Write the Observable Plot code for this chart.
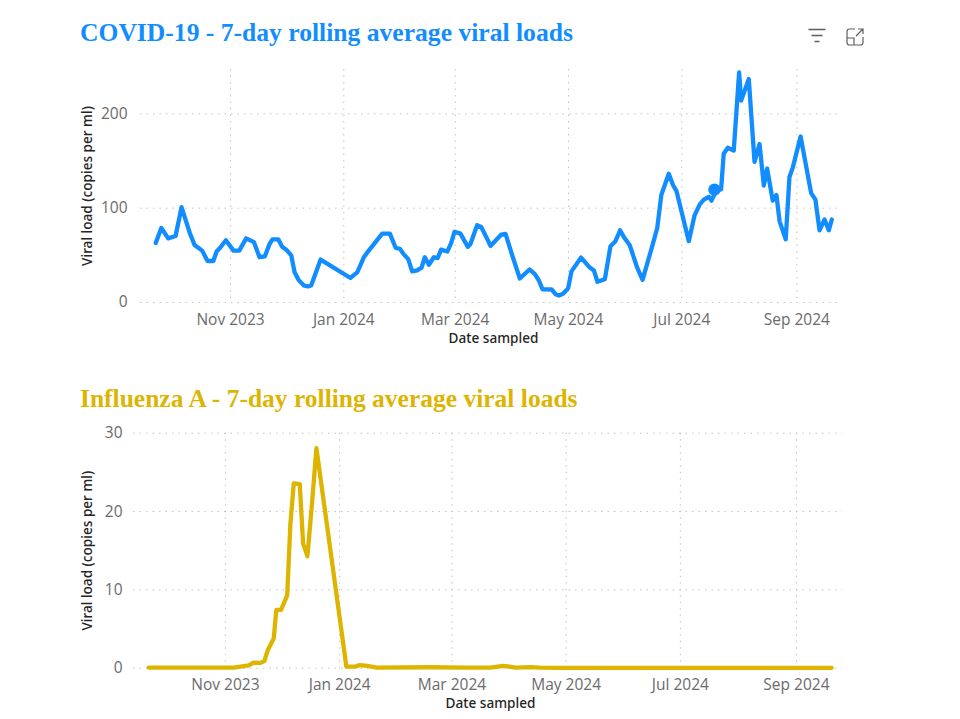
<!DOCTYPE html>
<html>
<head>
<meta charset="utf-8">
<script src="https://cdn.jsdelivr.net/npm/d3@7"></script>
<script src="https://cdn.jsdelivr.net/npm/@observablehq/plot@0.6"></script>
<style>
  html, body { margin: 0; padding: 0; background: #fff; overflow: hidden; }
  #page { position: relative; width: 960px; height: 719px; }
  .title { position: absolute; left: 80px; font: bold 25.6px "Liberation Serif", serif; white-space: nowrap; line-height: 30px; }
  .chart { position: absolute; left: 0; }
  .chart svg { display: block; }
  .icon { position: absolute; }
</style>
</head>
<body>
<div id="page">
  <div class="title" style="top:18px;color:#118DFF">COVID-19 - 7-day rolling average viral loads</div>
  <div class="title" style="top:384px;color:#DDB500;font-size:25.5px">Influenza A - 7-day rolling average viral loads</div>
  <svg class="icon" style="left:808px;top:28px" width="18" height="16" fill="none" stroke="#605e5c" stroke-width="1.3"><path d="M0.5 1.5H17.5M3.5 7.5H14.5M6.5 13.5H11.5"/></svg>
  <svg class="icon" style="left:846px;top:28px" width="18" height="18" fill="none" stroke="#605e5c" stroke-width="1.2"><path d="M9 1H3.5Q1 1 1 3.5V14.5Q1 17 3.5 17H14.5Q17 17 17 14.5V9M1 10H8V17M10 8L17 1M12 1H17V6"/></svg>
  <div class="chart" id="covid" style="top:60px"></div>
  <div class="chart" id="flu" style="top:420px"></div>
</div>
<script>
// Days are counted from 1 Nov 2023.
const baseDate = "2023-11-01";

const covidDays = [-40.3,-37.3,-33.6,-29.6,-26.4,-22,-19.4,-15.3,-12.4,-9.3,-7.5,-5.6,-2.5,1.6,4.7,8.4,12.6,15.6,18.5,21,22.6,25.7,27.8,30,32.7,34.5,36.6,39.5,41.6,43.4,48.5,64.6,68.2,69.6,71.8,74,81.7,85.8,88.9,91.2,93.3,95.7,97.8,100.5,102.9,104.6,106.8,109.5,111.5,113.4,116.7,118.8,120.6,123.8,127.8,129.2,132.8,135,137.7,140,145.8,148.1,151.7,155.8,161,163.9,166,168,172.9,175,176.8,179.1,181.8,183.6,188.8,193.5,195.7,197.6,201.6,204.6,207.3,209.8,211.8,215,219,221.9,227,229.8,232,236,238.4,240.2,246.8,249.9,252.7,254.9,257.6,259,261.7,264.2,265.6,267.8,271,273.9,275,279.1,282.2,284.9,287.2,289,292,294,295.7,299,301,302.8,307,312.7,315,317.2,319.9,322.2,323.8];
const covidLoads = [63,79,68,70.5,101,74,61,55,44,44,54,58,66,55,55,68,64,48,49,62,67,67,59,56,50,32,24,18,17,18,45.5,26,32,38,48,54,73,73,58,57,51,46,33,34,37,48,40,48,47,56,54,63,75,73,59,62,82,80,69.5,60,72,72.7,50,25.4,35,30,23.6,14,13.8,8.8,7.4,9.2,15,33,47.6,37,34,22,24.7,59.6,65,76.5,69.5,60.7,37,24,59,79,114,136.5,124,118,65,92.4,104,109,112,108,119,120,157.7,164,161,244,214,237,149,168,124,142,108,114,86,67,133,143,176,116,109,76.5,88,76.5,88];
const covidMarkerDay = [260.6];
const covidMarkerLoad = [119.6];

const fluDays = [-41,4.5,8,12.5,15,18.7,20.8,22.6,25.8,27.2,29.7,33,34.7,36.5,39.7,41.5,43.8,46.3,48.6,64.6,69.4,71.8,75.7,81,109.5,128,141.6,148.5,155,163,168,179,323.8];
const fluLoads = [0.08,0.08,0.2,0.35,0.7,0.68,0.9,2.3,3.8,7.45,7.45,9.3,18.4,23.6,23.5,15.9,14.3,21.2,28.1,0.2,0.2,0.4,0.3,0.08,0.12,0.08,0.08,0.3,0.08,0.15,0.08,0.05,0.05];

const tickDays = [0,61,121,182,243,305];
const tickLabels = ["Nov 2023","Jan 2024","Mar 2024","May 2024","Jul 2024","Sep 2024"];
const covidTicks = [0,100,200];
const fluTicks = [0,10,20,30];
const xTitle = ["Date sampled"];

const dayToDate = d => new Date(Date.parse(baseDate + "T00:00:00Z") + d * 864e5);
const tickDates = tickDays.map(dayToDate);
const labelOf = new Map(tickDates.map((d, i) => [+d, tickLabels[i]]));

const tickFont = '"Open Sans", sans-serif';
const titleFont = '"Noto Sans", sans-serif';
const gridStyle = {stroke: "#c4c2c0", strokeOpacity: 1, strokeWidth: 1, strokeDasharray: "1.5 5"};

function chart({days, loads, color, xDomain, yDomain, yTicks, height, marginTop, marginBottom, marginLeft, marginRight, markerDays, markerLoads, xPad, yPad, yOffset, titleDx, titleDy}) {
  const rows = days.map((d, i) => ({date: dayToDate(d), load: loads[i]}));
  const marks = [
    Plot.gridX(tickDates, gridStyle),
    Plot.gridY(yTicks, gridStyle),
    Plot.axisX(tickDates, {
      anchor: "bottom", tickSize: 0, tickPadding: xPad, label: null,
      tickFormat: d => labelOf.get(+d), fontSize: 15.5, fill: "#6b6b6b", fontFamily: tickFont
    }),
    Plot.text(xTitle, {
      text: d => d, frameAnchor: "bottom", dx: titleDx, dy: titleDy, lineAnchor: "middle",
      fontSize: 13.6, fontWeight: 500, fill: "#252423", fontFamily: titleFont
    }),
    Plot.axisY(yTicks, {
      anchor: "left", tickSize: 0, tickPadding: yPad, label: null, fontSize: 15.5, fill: "#6b6b6b", fontFamily: tickFont
    }),
    Plot.axisY({
      anchor: "left", ticks: [], label: "Viral load (copies per ml)", labelArrow: "none", labelAnchor: "center",
      labelOffset: yOffset, fontSize: 13.6, fontWeight: 500, fill: "#252423", fontFamily: titleFont
    }),
    Plot.line(rows, {x: "date", y: "load", stroke: color, strokeWidth: 4.3, strokeLinejoin: "round", strokeLinecap: "round"})
  ];
  if (markerDays) {
    marks.push(Plot.dot(markerDays.map((d, i) => ({date: dayToDate(d), load: markerLoads[i]})), {
      x: "date", y: "load", r: 5.5, fill: color, stroke: color
    }));
  }
  return Plot.plot({
    width: 960, height, marginTop, marginBottom, marginLeft, marginRight,
    style: {background: "transparent", overflow: "visible"},
    x: {type: "utc", domain: xDomain.map(dayToDate)},
    y: {domain: yDomain},
    marks
  });
}

document.getElementById("covid").append(chart({
  days: covidDays, loads: covidLoads, color: "#118DFF",
  xDomain: [-48.5, 328.5], yDomain: [0, 247], yTicks: covidTicks,
  height: 290, marginTop: 9, marginBottom: 48, marginLeft: 140, marginRight: 120,
  markerDays: covidMarkerDay, markerLoads: covidMarkerLoad,
  xPad: 11, yPad: 13, yOffset: 58, titleDx: 3, titleDy: 36
}));
document.getElementById("flu").append(chart({
  days: fluDays, loads: fluLoads, color: "#DDB500",
  xDomain: [-49.1, 329.6], yDomain: [0, 30], yTicks: fluTicks,
  height: 295, marginTop: 12.7, marginBottom: 47.3, marginLeft: 133, marginRight: 118,
  xPad: 11, yPad: 11, yOffset: 51, titleDx: 2.5, titleDy: 35.5
}));
</script>
</body>
</html>
